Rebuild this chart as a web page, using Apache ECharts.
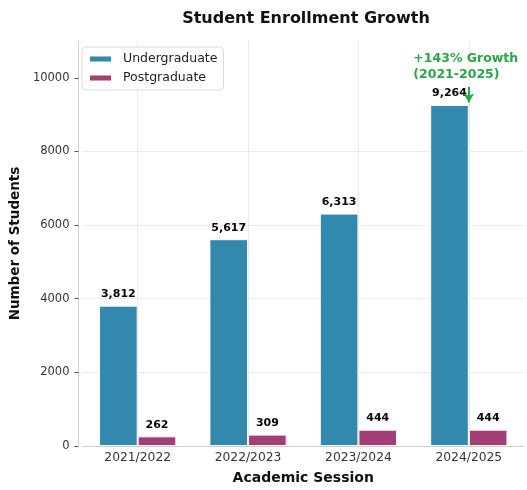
<!DOCTYPE html>
<html>
<head>
<meta charset="utf-8">
<script src="https://cdn.jsdelivr.net/npm/echarts@6/dist/echarts.min.js"></script>
<style>
  html, body { margin: 0; padding: 0; background: #fff; }
  #chart { width: 527px; height: 490px; }
</style>
</head>
<body>
<div id="chart"></div>
<script>
// Enrollment per academic session
const sessions = ['2021/2022', '2022/2023', '2023/2024', '2024/2025'];
const undergraduate = [3812, 5617, 6313, 9264];
const postgraduate = [262, 309, 444, 444];
const yTicks = [0, 2000, 4000, 6000, 8000, 10000];

// Growth callout on the latest session
const growthText = ['+143% Growth', '(2021-2025)'];
const growthLabelValue = 10000;
const growthArrowFrom = 9750;
const growthArrowTo = 9330;

const FONT = '"DejaVu Sans", sans-serif';
const GREEN = '#28A745';
const GRID = '#ebebeb';
const fmt = v => Number(v).toLocaleString('en-US');

const chart = echarts.init(document.getElementById('chart'), null, { renderer: 'canvas' });

const valueLabel = {
  show: true,
  position: 'top',
  distance: 6,
  fontFamily: FONT,
  fontSize: 11,
  fontWeight: 'bold',
  color: '#000',
  formatter: p => fmt(p.value)
};

chart.setOption({
  animation: false,
  backgroundColor: '#fff',
  title: {
    text: 'Student Enrollment Growth',
    left: 301,
    top: 6,
    textAlign: 'center',
    textStyle: { fontFamily: FONT, fontSize: 16, fontWeight: 'bold', color: '#111' }
  },
  legend: {
    orient: 'vertical',
    left: 82,
    top: 47,
    z: 10,
    icon: 'rect',
    itemWidth: 23,
    itemHeight: 7,
    itemGap: 5,
    padding: [5, 6, 5, 6],
    backgroundColor: '#fff',
    borderColor: '#d9d9d9',
    borderWidth: 1,
    borderRadius: 4,
    textStyle: { fontFamily: FONT, fontSize: 12.5, color: '#222', lineHeight: 14, padding: [0, 0, 0, 6] },
    data: ['Undergraduate', 'Postgraduate']
  },
  grid: { left: 79, right: 3, top: 41, bottom: 42 },
  xAxis: {
    type: 'category',
    data: sessions,
    name: 'Academic Session',
    nameLocation: 'middle',
    nameGap: 25,
    nameTextStyle: { fontFamily: FONT, fontSize: 14, fontWeight: 'bold', color: '#111' },
    axisLine: { lineStyle: { color: '#cfcfcf', width: 1 } },
    axisTick: { alignWithLabel: true, length: 4, lineStyle: { color: '#555' } },
    axisLabel: { fontFamily: FONT, fontSize: 12.3, color: '#333', margin: 6 },
    splitLine: { show: false }
  },
  yAxis: {
    type: 'value',
    min: 0,
    max: 11000,
    interval: 2000,
    offset: 4,
    name: 'Number of Students',
    nameLocation: 'middle',
    nameGap: 52,
    nameTextStyle: { fontFamily: FONT, fontSize: 13.5, fontWeight: 'bold', color: '#111' },
    axisLine: { show: true, lineStyle: { color: '#cfcfcf', width: 1 } },
    axisTick: { show: true, length: 4, customValues: yTicks, lineStyle: { color: '#555' } },
    axisLabel: { fontFamily: FONT, fontSize: 11.5, color: '#333', margin: 9,
      customValues: yTicks, formatter: v => String(v) },
    splitLine: { show: true, showMaxLine: false, lineStyle: { color: GRID, width: 1 } }
  },
  series: [
    {
      // vertical grid lines through the category centres, kept under the bars
      name: 'vgrid',
      type: 'line',
      data: [],
      silent: true,
      z: 0,
      markLine: {
        silent: true,
        symbol: ['none', 'none'],
        label: { show: false },
        lineStyle: { color: GRID, width: 1, type: 'solid' },
        data: sessions.map(s => ({ xAxis: s }))
      }
    },
    {
      name: 'Undergraduate',
      type: 'bar',
      data: undergraduate,
      barWidth: '35%',
      barGap: '0%',
      itemStyle: { color: '#2E86AB', opacity: 0.98, borderColor: '#fff', borderWidth: 1 },
      label: valueLabel
    },
    {
      name: 'Postgraduate',
      type: 'bar',
      data: postgraduate,
      barWidth: '35%',
      barGap: '0%',
      itemStyle: { color: '#A23B72', opacity: 0.98, borderColor: '#fff', borderWidth: 1 },
      label: valueLabel
    },
    {
      // carrier for the growth callout, placed on the category centre
      name: 'growth',
      type: 'line',
      data: [],
      silent: true,
      z: 5,
      markLine: {
        silent: true,
        symbol: ['none', 'arrow'],
        symbolSize: [8, 9],
        label: { show: false },
        lineStyle: { color: GREEN, width: 2, type: 'solid' },
        data: [[
          { coord: [sessions[3], growthArrowFrom] },
          { coord: [sessions[3], growthArrowTo] }
        ]]
      },
      markPoint: {
        silent: true,
        symbol: 'circle',
        symbolSize: 1,
        itemStyle: { color: 'rgba(0,0,0,0)' },
        label: {
          show: true,
          position: [-55, -11],
          align: 'left',
          verticalAlign: 'middle',
          fontFamily: FONT,
          fontSize: 12.5,
          fontWeight: 'bold',
          lineHeight: 16,
          color: GREEN,
          formatter: growthText.join('\n')
        },
        data: [{ coord: [sessions[3], growthLabelValue] }]
      }
    }
  ]
});
</script>
</body>
</html>
